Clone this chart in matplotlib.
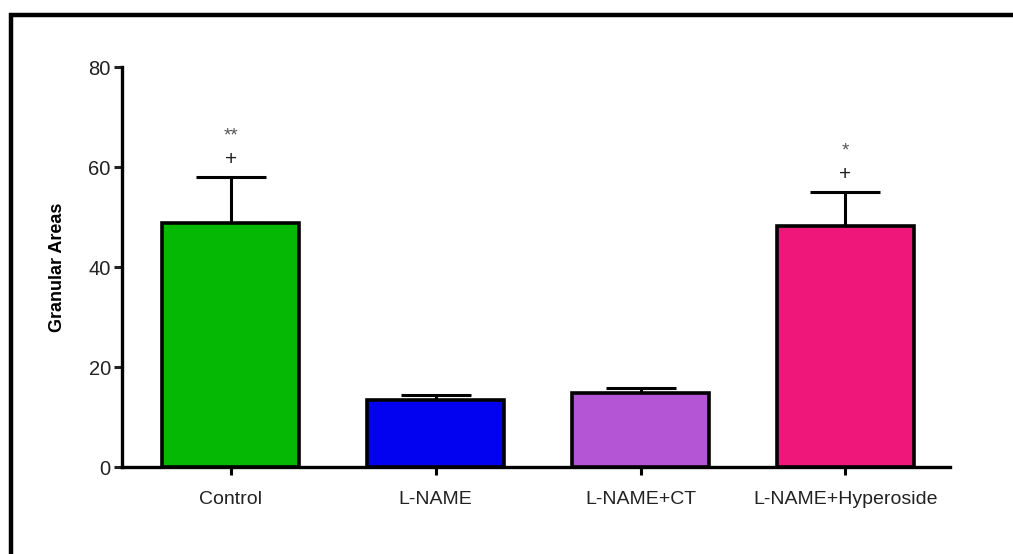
import matplotlib
matplotlib.use("Agg")
import matplotlib.pyplot as plt
from matplotlib.patches import Rectangle

groups = ["Control", "L-NAME", "L-NAME+CT", "L-NAME+Hyperoside"]
means = [48.8, 13.4, 14.8, 48.2]
sems = [9.2, 1.0, 1.0, 6.8]
colors = ["#04b804", "#0202f0", "#b455d5", "#f0177a"]
stars = ["**", "", "", "*"]
plus = ["+", "", "", "+"]
yticks = [0, 20, 40, 60, 80]

plt.rcParams["font.family"] = ["Liberation Sans", "DejaVu Sans"]

fig = plt.figure(figsize=(10.13, 5.54), dpi=100)
ax = fig.add_axes([0.1204, 0.157, 0.8174, 0.722])

x = list(range(len(groups)))
ax.bar(x, means, width=0.67, color=colors, edgecolor="black", linewidth=2.6, zorder=3)
ax.errorbar(x, means, yerr=[[0] * len(sems), sems], fmt="none", ecolor="black",
            elinewidth=2.2, capsize=25, capthick=2.2, zorder=2)

for i in x:
    top = means[i] + sems[i]
    if plus[i]:
        ax.text(i, top + 3.6, plus[i], ha="center", va="center", fontsize=15, color="#222222")
    if stars[i]:
        ax.text(i, top + 8.3, stars[i], ha="center", va="center", fontsize=13.5, color="#555555")

ax.set_xlim(-0.53, 3.51)
ax.set_ylim(0, 80)
ax.set_yticks(yticks)
ax.set_xticks(x)
ax.set_xticklabels(groups, fontsize=14, color="#222222")
ax.tick_params(axis="y", labelsize=14.5, colors="#222222", length=6, width=2.2,
               direction="out", pad=2)
ax.tick_params(axis="x", length=6, width=2.2, direction="out", pad=11)
ax.set_ylabel("Granular Areas", fontsize=13, fontweight="bold", labelpad=16)

for side in ["top", "right"]:
    ax.spines[side].set_visible(False)
for side in ["left", "bottom"]:
    ax.spines[side].set_linewidth(2.4)

# outer frame, only top and left edges inside the picture
fig.patches.append(Rectangle((11 / 1013, -0.1), 1.2, (554 - 15) / 554 + 0.1,
                             transform=fig.transFigure, fill=False,
                             edgecolor="black", linewidth=3.2))

fig.savefig("out.png", dpi=100)
plt.close(fig)
